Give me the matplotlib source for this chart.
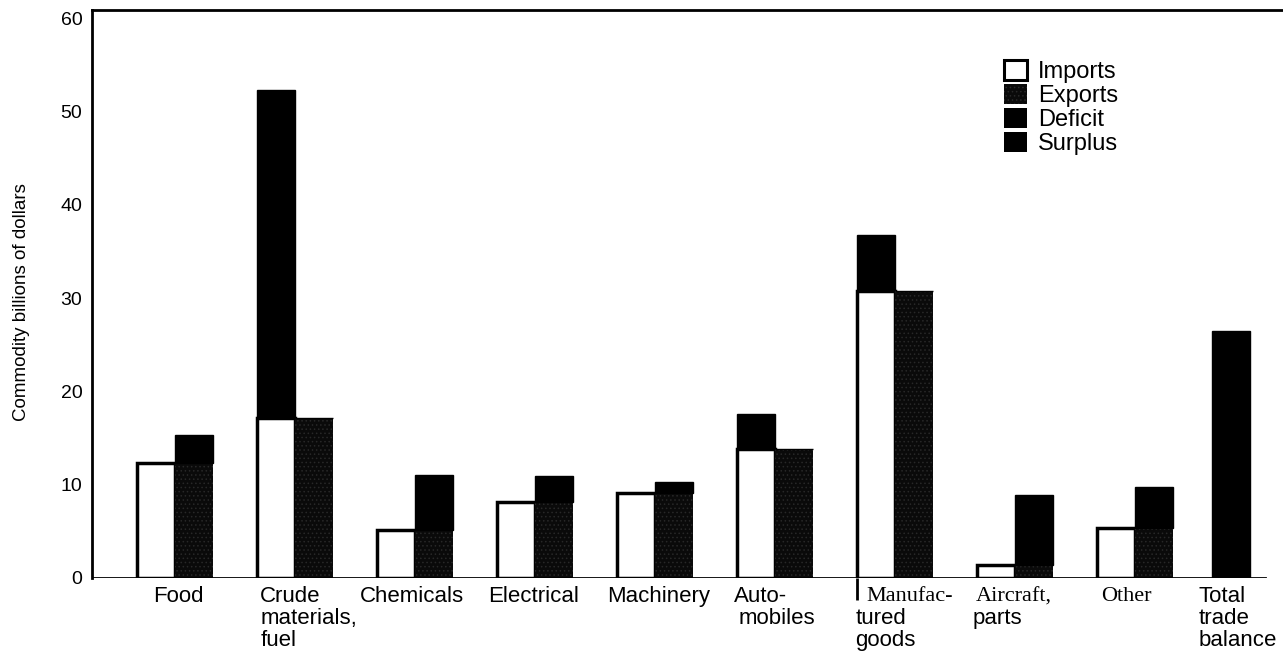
import matplotlib
matplotlib.use("Agg")
import matplotlib.pyplot as plt
from matplotlib.patches import Patch
import numpy as np

plt.rcParams["font.family"] = ["Liberation Sans", "DejaVu Sans"]
plt.rcParams["hatch.color"] = "#282828"
plt.rcParams["hatch.linewidth"] = 0.6

categories = ["Food", "Crude\nmaterials,\nfuel", "Chemicals", "Electrical", "Machinery",
              "Auto-\nmobiles", "Manufac-\ntured\ngoods", "Aircraft,\nparts", "Other",
              "Total\ntrade\nbalance"]
imports = [12.3, 52.3, 5.2, 8.2, 9.1, 17.6, 36.8, 1.4, 5.4]
exports = [15.3, 17.2, 11.0, 10.9, 10.3, 13.8, 30.8, 8.9, 9.8]
total_balance = 26.5
y_ticks = [0, 10, 20, 30, 40, 50, 60]

# label layout: left edge offset from group centre (group units), per line
label_offsets = [[-0.18], [-0.29] * 3, [-0.46], [-0.39], [-0.40], [-0.34, -0.30],
                 [-0.24, -0.33, -0.33], [-0.33, -0.35], [-0.28], [-0.47] * 3]
serif_lines = {"Manufac-", "Aircraft,", "Other"}

imports = np.array(imports)
exports = np.array(exports)
white_part = np.minimum(imports, exports)
deficit = np.clip(imports - exports, 0, None)
surplus = np.clip(exports - imports, 0, None)

fig = plt.figure(figsize=(12.83, 6.59), dpi=100)
ax = fig.add_axes([92 / 1283, 81 / 659, 1 - 92 / 1283, 568 / 659])

x = np.arange(len(imports))
w = 0.32

ax.bar(x - w / 2, white_part, w, color="white", edgecolor="black", linewidth=2.5, zorder=2)
ax.bar(x - w / 2, deficit, w, bottom=white_part, color="black", edgecolor="black",
       linewidth=1, zorder=3)
ax.bar(x + w / 2, white_part, w, color="#0a0a0a", hatch="....", linewidth=0, zorder=3)
ax.bar(x + w / 2, surplus, w, bottom=white_part, color="black", edgecolor="black",
       linewidth=1, zorder=3)
ax.bar([len(imports) - w / 2 - 0.04], [total_balance], w, color="black", edgecolor="black",
       linewidth=1, zorder=3)

# manufactured goods imports edge runs below the axis in the original
ax.vlines(x[6] - w, -2.4, 0, color="black", linewidth=2, clip_on=False)

ax.set_xlim(-0.692, 9.233)
ax.set_ylim(0, 60.9)
ax.set_xticks([])
ax.set_yticks(y_ticks)
ax.tick_params(axis="y", length=0, pad=7, labelsize=14)

for s in ["right", "bottom"]:
    ax.spines[s].set_visible(False)
ax.spines["left"].set_linewidth(2)
ax.spines["top"].set_linewidth(2)
ax.axhline(0, xmin=0, xmax=0.985, color="black", linewidth=2, zorder=4)

ax.set_ylabel("Commodity billions of dollars", fontsize=13.5)
ax.yaxis.set_label_coords(-0.052, 0.485)

for i, lab in enumerate(categories):
    for j, line in enumerate(lab.split("\n")):
        fam = ["Liberation Serif"] if line in serif_lines else ["Liberation Sans"]
        ax.text(i + label_offsets[i][j], -2.0 - j * 2.35, line, ha="left", va="center",
                fontsize=16, family=fam, clip_on=False)

handles = [Patch(facecolor="white", edgecolor="black", linewidth=2.2),
           Patch(facecolor="#0a0a0a", hatch="....", linewidth=0),
           Patch(facecolor="black"),
           Patch(facecolor="black")]
fig.legend(handles, ["Imports", "Exports", "Deficit", "Surplus"], loc="upper left",
           bbox_to_anchor=(992 / 1283, 1 - 48 / 659), frameon=False, fontsize=17,
           handlelength=1.0, handleheight=0.95, handletextpad=0.45, labelspacing=0.03,
           borderpad=0)

fig.savefig("out.png", dpi=100)
